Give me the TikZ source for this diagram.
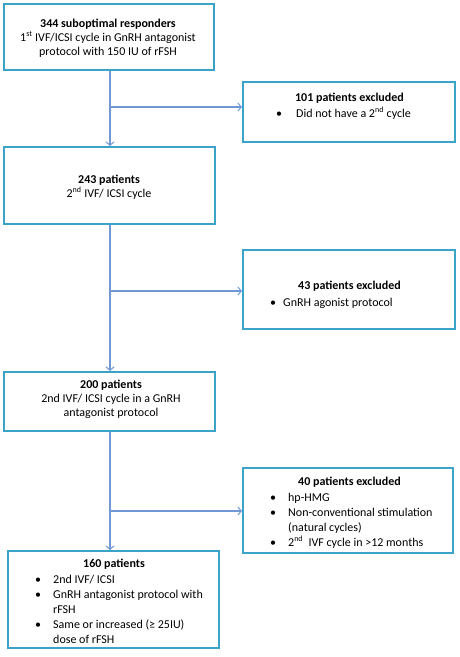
\documentclass[tikz,border=0pt]{standalone}
\usepackage{fontspec}
\setmainfont{Carlito}
\usetikzlibrary{arrows.meta}
\definecolor{boxc}{RGB}{60,163,200}
\definecolor{linec}{RGB}{112,152,212}
\newcommand{\bul}{\makebox[5pt]{\textbullet}}
\begin{document}
\begin{tikzpicture}[x=1pt,y=-1pt,
  box/.style={draw=boxc, line width=2pt, inner sep=0pt, rectangle},
  txt/.style={inner sep=0pt, anchor=base, font=\fontsize{12}{14}\selectfont},
  lst/.style={inner sep=0pt, anchor=base west, font=\fontsize{12}{15}\selectfont},
  arr/.style={draw=linec, line width=1.3pt, -{Straight Barb[length=3.5pt,width=8pt,line width=1pt]}},
  conn/.style={draw=linec, line width=1.3pt}]
\useasboundingbox (0,0) rectangle (459,657);
% boxes
\node[box, minimum width=210pt, minimum height=66pt] (b1) at (109,37) {};
\node[box, minimum width=212pt, minimum height=60pt] (b2) at (349,112) {};
\node[box, minimum width=211pt, minimum height=77pt] (b3) at (109.5,185.5) {};
\node[box, minimum width=212pt, minimum height=79pt] (b4) at (349,289.5) {};
\node[box, minimum width=211pt, minimum height=59pt] (b5) at (109.5,401.5) {};
\node[box, minimum width=210pt, minimum height=85pt] (b6) at (348,510.5) {};
\node[box, minimum width=211pt, minimum height=97pt] (b7) at (113.5,599.5) {};
% texts
\node[txt] (t1) at (108,27) {\begin{tabular}[t]{@{}c@{}}\fontsize{12}{13.5}\selectfont\textbf{344 suboptimal responders}\\1\textsuperscript{st} IVF/ICSI cycle in GnRH antagonist\\protocol with 150 IU of rFSH\end{tabular}};
\node[txt] (t2) at (349.5,101) {\textbf{101 patients excluded}};
\node[lst] (l2) at (276.5,117) {\begin{tabular}[t]{@{}l@{\hspace{14.5pt}}l@{}}\bul & Did not have a 2\textsuperscript{nd} cycle\end{tabular}};
\node[txt] (t3) at (109,183) {\begin{tabular}[t]{@{}c@{}}\textbf{243 patients}\\2\textsuperscript{nd} IVF/ ICSI cycle\end{tabular}};
\node[txt] (t4) at (349.5,289) {\textbf{43 patients excluded}};
\node[lst] (l4) at (270.5,306) {\begin{tabular}[t]{@{}l@{\hspace{7.5pt}}l@{}}\bul & GnRH agonist protocol\end{tabular}};
\node[txt] (t5) at (111,388) {\begin{tabular}[t]{@{}c@{}}\fontsize{12}{14.5}\selectfont\textbf{200 patients}\\2nd IVF/ ICSI cycle in a GnRH\\antagonist protocol\end{tabular}};
\node[txt] (t6) at (349.5,485) {\textbf{40 patients excluded}};
\node[lst] (l6) at (270.5,501) {\begin{tabular}[t]{@{}l@{\hspace{12.5pt}}l@{}}\bul & hp-HMG\\ \bul & Non-conventional stimulation\\ & (natural cycles)\\ \bul & 2\textsuperscript{nd}\ \ IVF cycle in >12 months\end{tabular}};
\node[txt] (t7) at (114,567) {\textbf{160 patients}};
\node[lst] (l7) at (35.5,583) {\begin{tabular}[t]{@{}l@{\hspace{12.5pt}}l@{}}\bul & 2nd IVF/ ICSI\\ \bul & GnRH antagonist protocol with\\ & rFSH\\ \bul & Same or increased (≥ 25IU)\\ & dose of rFSH\end{tabular}};
% junctions
\coordinate (j1) at (110,107);
\coordinate (j2) at (110,291);
\coordinate (j3) at (110,511);
% connectors
\draw[arr] (b1.south -| j1) -- (b3.north -| j1);
\draw[arr] (j1) -- (b2.west |- j1);
\draw[arr] (b3.south -| j2) -- (b5.north -| j2);
\draw[arr] (j2) -- (b4.west |- j2);
\draw[arr] (b5.south -| j3) -- (b7.north -| j3);
\draw[arr] (j3) -- (b6.west |- j3);
\end{tikzpicture}
\end{document}
